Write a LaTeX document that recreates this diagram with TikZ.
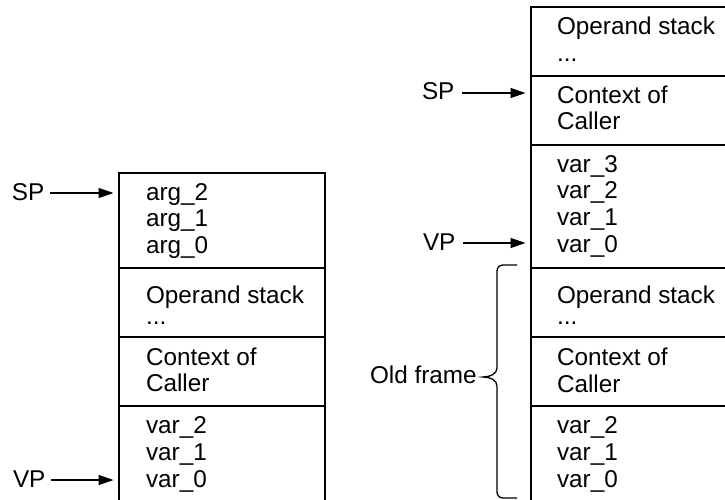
\documentclass[tikz,border=0pt]{standalone}
\usepackage{fontspec}
\setmainfont{Liberation Sans}
\usetikzlibrary{arrows.meta}
\begin{document}
\begin{tikzpicture}[x=1pt,y=-1pt,
  cell/.style={draw, line width=1.6pt, rectangle, inner sep=0pt, outer sep=0pt, anchor=north west},
  txt/.style={font=\fontsize{24.3}{27}\selectfont, inner sep=0pt, outer sep=0pt, anchor=base west, text=black},
  ptr/.style={line width=1.3pt, -{Triangle[length=15pt,width=10pt]}, shorten >=5.5pt},
  bracepath/.style={line width=1.3pt}]
\useasboundingbox (0,0) rectangle (725,500);
\clip (0,0) rectangle (725,500);
% left stack
\node[cell, minimum width=206pt, minimum height=95pt] (L1) at (119,173) {};
\node[cell, minimum width=206pt, minimum height=69pt] (L2) at (119,268) {};
\node[cell, minimum width=206pt, minimum height=69pt] (L3) at (119,337) {};
\node[cell, minimum width=206pt, minimum height=120pt] (L4) at (119,406) {};
% right stack
\node[cell, minimum width=229pt, minimum height=69pt] (R1) at (531,7) {};
\node[cell, minimum width=229pt, minimum height=69pt] (R2) at (531,76) {};
\node[cell, minimum width=229pt, minimum height=123pt] (R3) at (531,145) {};
\node[cell, minimum width=229pt, minimum height=69pt] (R4) at (531,268) {};
\node[cell, minimum width=229pt, minimum height=69pt] (R5) at (531,337) {};
\node[cell, minimum width=229pt, minimum height=120pt] (R6) at (531,406) {};
% left texts
\node[txt] (la1) at (146,200) {arg\_2};
\node[txt] (la2) at (146,226.5) {arg\_1};
\node[txt] (la3) at (146,253) {arg\_0};
\node[txt] (lb1) at (146,303) {Operand stack};
\node[txt] (lb2) at (146,324) {...};
\node[txt] (lc1) at (146,365) {Context of};
\node[txt] (lc2) at (146,391) {Caller};
\node[txt] (ld1) at (146,433) {var\_2};
\node[txt] (ld2) at (146,460) {var\_1};
\node[txt] (ld3) at (146,487) {var\_0};
% right texts
\node[txt] (ra1) at (557,35) {Operand stack};
\node[txt] (ra2) at (557,62) {...};
\node[txt] (rb1) at (557,103) {Context of};
\node[txt] (rb2) at (557,130) {Caller};
\node[txt] (rc1) at (557,172) {var\_3};
\node[txt] (rc2) at (557,198) {var\_2};
\node[txt] (rc3) at (557,225) {var\_1};
\node[txt] (rc4) at (557,252) {var\_0};
\node[txt] (rd1) at (557,303) {Operand stack};
\node[txt] (rd2) at (557,324) {...};
\node[txt] (re1) at (557,365) {Context of};
\node[txt] (re2) at (557,392) {Caller};
\node[txt] (rf1) at (557,433) {var\_2};
\node[txt] (rf2) at (557,460) {var\_1};
\node[txt] (rf3) at (557,487) {var\_0};
% pointer labels
\node[txt] (spL) at (12,200) {SP};
\node[txt] (vpL) at (13,487) {VP};
\node[txt] (spR) at (422,100) {SP};
\node[txt] (vpR) at (423,250) {VP};
\node[txt] (old) at (370,383) {Old frame};
% arrows
\draw[ptr] ([shift={(6pt,7pt)}]spL.base east) coordinate (a1) -- (a1 -| L1.west);
\draw[ptr] ([shift={(6pt,7pt)}]vpL.base east) coordinate (a2) -- (a2 -| L4.west);
\draw[ptr] ([shift={(8pt,7pt)}]spR.base east) coordinate (a3) -- (a3 -| R2.west);
\draw[ptr] ([shift={(8pt,7pt)}]vpR.base east) coordinate (a4) -- (a4 -| R3.west);
% brace
\draw[bracepath] (517,265) -- (503,265) .. controls (499.7,265) and (497,267.7) .. (497,271)
  -- (497,368) .. controls (497,374) and (490,377) .. (483,377)
  .. controls (490,377) and (497,380) .. (497,386)
  -- (497,492) .. controls (497,495.3) and (499.7,498) .. (503,498) -- (517,498);
\end{tikzpicture}
\end{document}
